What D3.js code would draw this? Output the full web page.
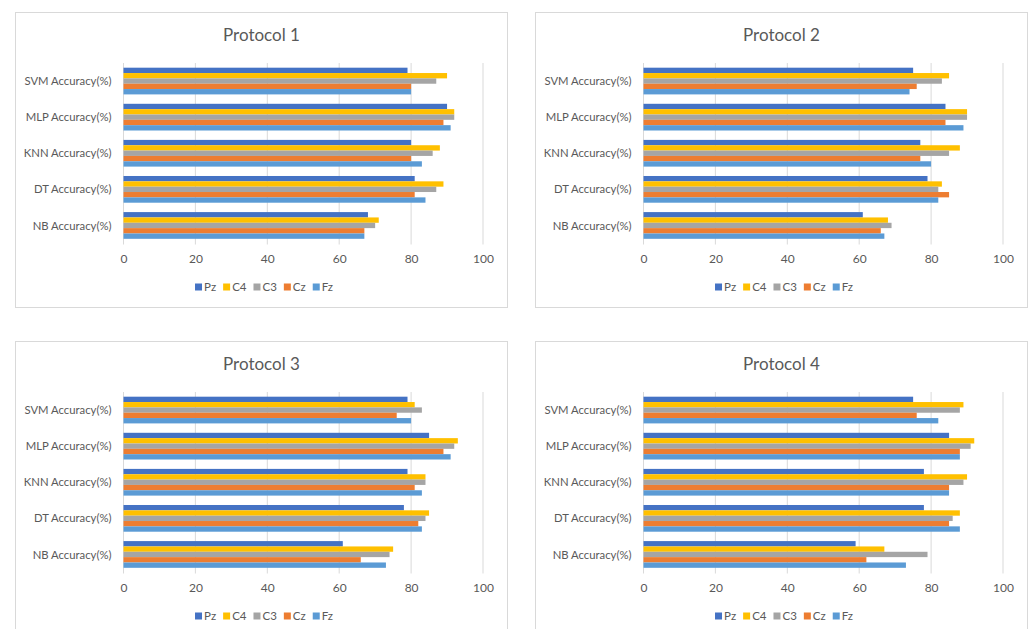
<!DOCTYPE html>
<html>
<head>
<meta charset="utf-8">
<script src="https://cdn.jsdelivr.net/npm/d3@7"></script>
<style>
  html, body { margin: 0; padding: 0; background: #ffffff; }
  svg { display: block; font-family: Lato, "Open Sans", sans-serif; }
</style>
</head>
<body>
<svg id="chart" width="1029" height="629"></svg>
<script>
// Classifier accuracy (%) per EEG channel, one panel per protocol
const categories = ["SVM Accuracy(%)", "MLP Accuracy(%)", "KNN Accuracy(%)", "DT Accuracy(%)", "NB Accuracy(%)"];
const channels = ["Pz", "C4", "C3", "Cz", "Fz"];
const channelColors = ["#4472C4", "#FFC000", "#A5A5A5", "#ED7D31", "#5B9BD5"];
const xTicks = [0, 20, 40, 60, 80, 100];
const protocolTitles = ["Protocol 1", "Protocol 2", "Protocol 3", "Protocol 4"];

// values[category][channel] in the order of `categories` and `channels`
const protocol1 = [
  [79, 90, 87, 80, 80],
  [90, 92, 92, 89, 91],
  [80, 88, 86, 80, 83],
  [81, 89, 87, 81, 84],
  [68, 71, 70, 67, 67]
];
const protocol2 = [
  [75, 85, 83, 76, 74],
  [84, 90, 90, 84, 89],
  [77, 88, 85, 77, 80],
  [79, 83, 82, 85, 82],
  [61, 68, 69, 66, 67]
];
const protocol3 = [
  [79, 81, 83, 76, 80],
  [85, 93, 92, 89, 91],
  [79, 84, 84, 81, 83],
  [78, 85, 84, 82, 83],
  [61, 75, 74, 66, 73]
];
const protocol4 = [
  [75, 89, 88, 76, 82],
  [85, 92, 91, 88, 88],
  [78, 90, 89, 85, 85],
  [78, 88, 86, 85, 88],
  [59, 67, 79, 62, 73]
];
const protocolValues = [protocol1, protocol2, protocol3, protocol4];

const panelOrigins = [[15.5, 12.5], [535.5, 12.5], [15.5, 341.5], [535.5, 341.5]];
const panelW = 492, panelH = 295;
const plot = { left: 108, right: 467.5, top: 50.5, bottom: 231 };
const textColor = "#595959";
const gridColor = "#d9d9d9";

const svg = d3.select("#chart");

protocolValues.forEach((vals, p) => {
  const [ox, oy] = panelOrigins[p];
  const g = svg.append("g").attr("transform", `translate(${ox},${oy})`);

  g.append("rect")
    .attr("width", panelW).attr("height", panelH)
    .attr("fill", "#ffffff").attr("stroke", gridColor).attr("stroke-width", 1);

  g.append("text")
    .attr("x", panelW / 2).attr("y", 28.5)
    .attr("text-anchor", "middle")
    .attr("font-size", 17).attr("fill", textColor)
    .text(protocolTitles[p]);

  const x = d3.scaleLinear().domain([0, 100]).range([plot.left, plot.right]);
  const y = d3.scaleBand().domain(categories).range([plot.top, plot.bottom])
    .paddingInner(0.26).paddingOuter(0.13);
  const ySub = d3.scaleBand().domain(channels).range([0, y.bandwidth()]);

  // vertical gridlines
  g.append("g").selectAll("line").data(xTicks).join("line")
    .attr("x1", d => x(d)).attr("x2", d => x(d))
    .attr("y1", plot.top).attr("y2", plot.bottom + 1)
    .attr("stroke", gridColor).attr("stroke-width", 1);

  // bars
  categories.forEach((cat, ci) => {
    g.append("g").selectAll("rect").data(vals[ci]).join("rect")
      .attr("x", x(0))
      .attr("y", (d, i) => y(cat) + ySub(channels[i]))
      .attr("width", d => x(d) - x(0))
      .attr("height", ySub.bandwidth())
      .attr("fill", (d, i) => channelColors[i]);
  });

  // x axis tick labels
  const xAxis = d3.axisBottom(x).tickValues(xTicks).tickSize(0).tickPadding(10.5);
  const ax = g.append("g").attr("transform", `translate(0,${plot.bottom})`).call(xAxis);
  ax.select(".domain").remove();
  ax.selectAll("text").attr("font-size", 12).attr("fill", textColor)
    .attr("font-family", "Lato, 'Open Sans', sans-serif");

  // category labels
  const yAxis = d3.axisLeft(y).tickSize(0).tickPadding(12);
  const ay = g.append("g").attr("transform", `translate(${plot.left},0.5)`).call(yAxis);
  ay.select(".domain").remove();
  ay.selectAll("text").attr("font-size", 11.3).attr("fill", textColor)
    .attr("font-family", "Lato, 'Open Sans', sans-serif");

  // legend
  const legend = g.append("g");
  let cx = 0;
  const gap = 7;
  channels.forEach((ch, i) => {
    const it = legend.append("g").attr("transform", `translate(${cx},0)`);
    it.append("rect").attr("x", 0).attr("y", -3.5).attr("width", 7).attr("height", 7)
      .attr("fill", channelColors[i]);
    const t = it.append("text").attr("x", 9).attr("y", 0).attr("dy", "0.35em")
      .attr("font-size", 11.5).attr("fill", textColor).text(ch);
    cx += 9 + t.node().getComputedTextLength() + gap;
  });
  const total = cx - gap;
  legend.attr("transform", `translate(${248.5 - total / 2},274.5)`);
});
</script>
</body>
</html>
